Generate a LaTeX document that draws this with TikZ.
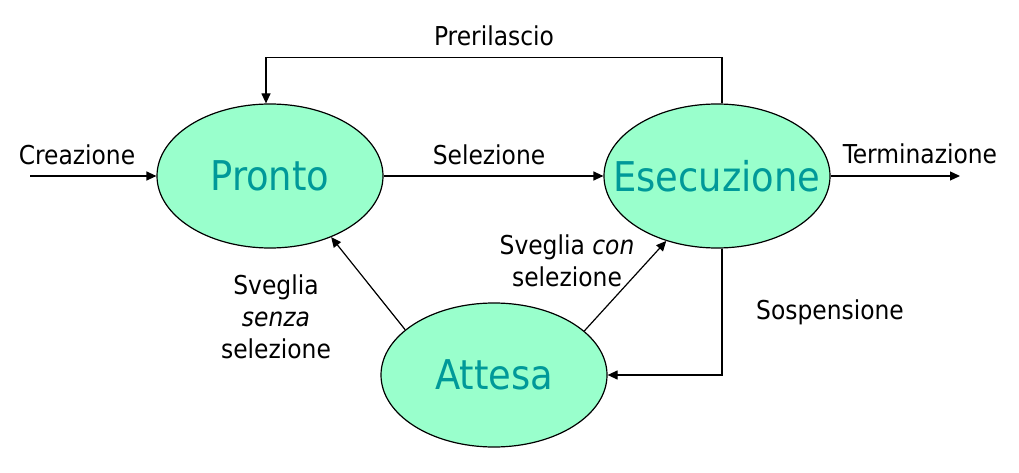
\documentclass[tikz,border=0pt]{standalone}
\usepackage{fontspec}
\setmainfont{DejaVu Sans Condensed}
\usetikzlibrary{arrows.meta,shapes.geometric}
\definecolor{mint}{HTML}{99FFCC}
\definecolor{tealtxt}{HTML}{009999}
\tikzset{
  state/.style={ellipse,draw=black,line width=1.2pt,fill=mint,minimum width=226pt,minimum height=144pt,inner sep=0pt,text=tealtxt,font=\fontsize{41}{41}\selectfont},
  arr/.style={line width=1.2pt,-{Triangle[length=10pt,width=9pt]}},
  lbl/.style={anchor=base,inner sep=0pt,align=center,font=\fontsize{26}{32}\selectfont}
}
\begin{document}
\begin{tikzpicture}[x=1pt,y=-1pt]
\useasboundingbox (0,0) rectangle (1019,473);
\node[state] (pronto) at (270,176) {\makebox[0pt]{Pronto}};
\node[state] (esec) at (717,176) {\makebox[0pt]{Esecuzione}};
\node[state] (attesa) at (494,375) {\makebox[0pt]{Attesa}};
\coordinate (cin) at (30,176);
\coordinate (cout) at (960,176);
\draw[arr] (cin) -- (pronto.west);
\draw[arr] (pronto.east) -- (esec.west);
\draw[arr] (esec.east) -- (cout);
\draw[arr] ([xshift=5pt]esec.north) -- ++(0,-46) -| ([xshift=-4pt]pronto.north);
\draw[arr] ([xshift=5pt]esec.south) |- (attesa.east);
\draw[arr] (attesa.153.7) -- (pronto.-45);
\draw[arr] (attesa.26.3) -- (esec.232.4);
\node[lbl] (l1) at (77,165) {Creazione};
\node[lbl] (l2) at (489,165) {Selezione};
\node[lbl] (l3) at (920,164) {Terminazione};
\node[lbl] (l4) at (494,46) {Prerilascio};
\node[lbl] (l5) at (830,319) {Sospensione};
\node[lbl] (l6) at (276,358) {Sveglia\\\textit{senza}\\selezione};
\node[lbl] (l7) at (567,286) {Sveglia \textit{con}\\selezione};
\end{tikzpicture}
\end{document}
